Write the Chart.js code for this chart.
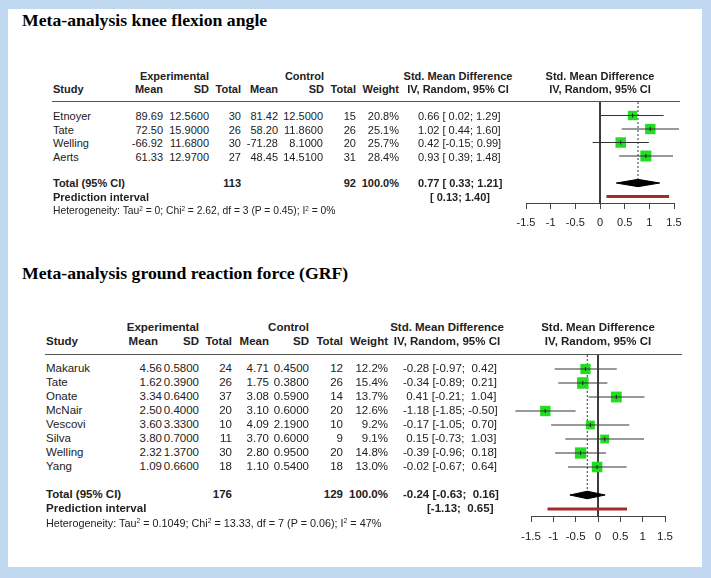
<!DOCTYPE html>
<html>
<head>
<meta charset="utf-8">
<script src="https://cdn.jsdelivr.net/npm/chart.js"></script>
<style>
html, body { margin: 0; padding: 0; background: #fff; }
#page { position: relative; width: 711px; height: 578px; overflow: hidden; background: #fff;
        font-family: "Liberation Sans", Arial, sans-serif; color: #222; }
#frame { position: absolute; left: 0; top: 0; width: 711px; height: 578px; box-sizing: border-box;
         border-style: solid; border-color: #c0d9f0; border-width: 9px 9px 11px 8px; z-index: 5; }
.t { position: absolute; white-space: pre; line-height: 1; }
.t sup { font-size: 0.62em; vertical-align: 0.5em; line-height: 0; }
.title { font-family: "Liberation Serif", "Times New Roman", serif; font-weight: bold; color: #000; }
.rule { position: absolute; height: 1px; background: #555; }
canvas { position: absolute; }
</style>
</head>
<body>
<div id="page">
  <div id="frame"></div>
  <canvas id="kneeChart" width="230" height="150" style="left:470px; top:90px;"></canvas>
  <canvas id="grfChart" width="230" height="230" style="left:470px; top:340px;"></canvas>
</div>
<script>
// knee flexion angle
const kneeStudies = ['Etnoyer', 'Tate', 'Welling', 'Aerts'];
const kneeExpMean = [89.69, 72.50, -66.92, 61.33];
const kneeExpSD = [12.56, 15.90, 11.68, 12.97];
const kneeExpN = [30, 26, 30, 27];
const kneeCtlMean = [81.42, 58.20, -71.28, 48.45];
const kneeCtlSD = [12.50, 11.86, 8.10, 14.51];
const kneeCtlN = [15, 26, 20, 31];
const kneeWeight = [20.8, 25.1, 25.7, 28.4];
const kneeSMD = [0.66, 1.02, 0.42, 0.93];
const kneeLower = [0.02, 0.44, -0.15, 0.39];
const kneeUpper = [1.29, 1.60, 0.99, 1.48];
const kneeTotal = [0.77, 0.33, 1.21];
const kneePI = [0.13, 1.40];
const kneeN = [113, 92];
const kneeHet = 'Heterogeneity: Tau<sup>2</sup> = 0; Chi<sup>2</sup> = 2.62, df = 3 (P = 0.45); I<sup>2</sup> = 0%';

// ground reaction force
const grfStudies = ['Makaruk', 'Tate', 'Onate', 'McNair', 'Vescovi', 'Silva', 'Welling', 'Yang'];
const grfExpMean = [4.56, 1.62, 3.34, 2.50, 3.60, 3.80, 2.32, 1.09];
const grfExpSD = [0.58, 0.39, 0.64, 0.40, 3.33, 0.70, 1.37, 0.66];
const grfExpN = [24, 26, 37, 20, 10, 11, 30, 18];
const grfCtlMean = [4.71, 1.75, 3.08, 3.10, 4.09, 3.70, 2.80, 1.10];
const grfCtlSD = [0.45, 0.38, 0.59, 0.60, 2.19, 0.60, 0.95, 0.54];
const grfCtlN = [12, 26, 14, 20, 10, 9, 20, 18];
const grfWeight = [12.2, 15.4, 13.7, 12.6, 9.2, 9.1, 14.8, 13.0];
const grfSMD = [-0.28, -0.34, 0.41, -1.18, -0.17, 0.15, -0.39, -0.02];
const grfLower = [-0.97, -0.89, -0.21, -1.85, -1.05, -0.73, -0.96, -0.67];
const grfUpper = [0.42, 0.21, 1.04, -0.50, 0.70, 1.03, 0.18, 0.64];
const grfTotal = [-0.24, -0.63, 0.16];
const grfPI = [-1.13, 0.65];
const grfN = [176, 129];
const grfHet = 'Heterogeneity: Tau<sup>2</sup> = 0.1049; Chi<sup>2</sup> = 13.33, df = 7 (P = 0.06); I<sup>2</sup> = 47%';

const tickValues = [-1.5, -1, -0.5, 0, 0.5, 1, 1.5];
const tickLabels = ['-1.5', '-1', '-0.5', '0', '0.5', '1', '1.5'];

const page = document.getElementById('page');

function put(text, x, y, opts = {}) {
  const d = document.createElement('div');
  d.className = 't' + (opts.cls ? ' ' + opts.cls : '');
  d.innerHTML = text;
  d.style.left = x + 'px';
  d.style.top = y + 'px';
  d.style.fontSize = (opts.size || 11) + 'px';
  if (opts.bold) d.style.fontWeight = 'bold';
  const tx = opts.align === 'right' ? '-100%' : opts.align === 'center' ? '-50%' : '0';
  d.style.transform = 'translate(' + tx + ', -50%)';
  page.appendChild(d);
}

function rule(x1, x2, y) {
  const d = document.createElement('div');
  d.className = 'rule';
  d.style.left = x1 + 'px';
  d.style.width = (x2 - x1) + 'px';
  d.style.top = y + 'px';
  page.appendChild(d);
}

// R style: pad positives with a space when the column has a negative
function col(vals) {
  const neg = vals.some(v => v < 0);
  return v => (neg && v >= 0 ? ' ' : '') + v.toFixed(2);
}

function table(d, L) {
  const s = L.size;
  put(L.title, 22, L.titleY, { cls: 'title', size: 17.7 });
  put('Experimental', L.head.sd, L.groupY, { align: 'right', bold: true, size: s });
  put('Control', L.head.csd, L.groupY, { align: 'right', bold: true, size: s });
  put('Study', L.studyX, L.headY, { bold: true, size: s });
  put('Mean', L.head.mean, L.headY, { align: 'right', bold: true, size: s });
  put('SD', L.head.sd, L.headY, { align: 'right', bold: true, size: s });
  put('Total', L.head.tot, L.headY, { align: 'right', bold: true, size: s });
  put('Mean', L.head.cmean, L.headY, { align: 'right', bold: true, size: s });
  put('SD', L.head.csd, L.headY, { align: 'right', bold: true, size: s });
  put('Total', L.head.ctot, L.headY, { align: 'right', bold: true, size: s });
  put('Weight', L.head.w, L.headY, { align: 'right', bold: true, size: s });
  put('Std. Mean Difference', L.smdHeadX, L.groupY, { align: 'center', bold: true, size: s });
  put('IV, Random, 95% CI', L.smdHeadX, L.headY, { align: 'center', bold: true, size: s });
  put('Std. Mean Difference', L.forestHeadX, L.groupY, { align: 'center', bold: true, size: s });
  put('IV, Random, 95% CI', L.forestHeadX, L.headY, { align: 'center', bold: true, size: s });
  rule(L.ruleX[0], L.ruleX[1], L.ruleY);

  const fe = col(d.est.concat([d.total[0]]));
  const fl = col(d.lo.concat([d.total[1], d.pi[0]]));
  const fh = col(d.hi.concat([d.total[2], d.pi[1]]));
  d.studies.forEach((name, i) => {
    const y = L.row0 + L.rowH * i;
    put(name, L.studyX, y, { size: s });
    put(d.em[i].toFixed(2), L.c.mean, y, { align: 'right', size: s });
    put(d.esd[i].toFixed(4), L.c.sd, y, { align: 'right', size: s });
    put(String(d.en[i]), L.c.tot, y, { align: 'right', size: s });
    put(d.cm[i].toFixed(2), L.c.cmean, y, { align: 'right', size: s });
    put(d.csd[i].toFixed(4), L.c.csd, y, { align: 'right', size: s });
    put(String(d.cn[i]), L.c.ctot, y, { align: 'right', size: s });
    put(d.w[i].toFixed(1) + '%', L.c.w, y, { align: 'right', size: s });
    put(fe(d.est[i]) + ' [' + fl(d.lo[i]) + '; ' + fh(d.hi[i]) + ']', L.c.smd, y, { size: s });
  });
  put('Total (95% CI)', L.studyX, L.totalY, { bold: true, size: s });
  put(String(d.n[0]), L.c.tot, L.totalY, { align: 'right', bold: true, size: s });
  put(String(d.n[1]), L.c.ctot, L.totalY, { align: 'right', bold: true, size: s });
  put('100.0%', L.c.w, L.totalY, { align: 'right', bold: true, size: s });
  put(fe(d.total[0]) + ' [' + fl(d.total[1]) + '; ' + fh(d.total[2]) + ']', L.c.smd, L.totalY, { bold: true, size: s });
  put('Prediction interval', L.studyX, L.piY, { bold: true, size: s });
  put('[' + fl(d.pi[0]) + '; ' + fh(d.pi[1]) + ']', L.piX, L.piY, { bold: true, size: s });
  put(d.het, L.studyX, L.hetY, { size: L.hetSize });
}

function forest(id, d, F) {
  const wmax = Math.max(...d.w);
  const pts = d.est.map((e, i) => ({ x: e, y: i + 1 }));
  const sumRow = d.studies.length + 2;
  const ds = [];
  d.est.forEach((e, i) => {
    ds.push({ type: 'line', data: [{ x: d.lo[i], y: i + 1 }, { x: d.hi[i], y: i + 1 }],
      borderColor: '#333', borderWidth: 1, pointRadius: 0, clip: false, order: 1 });
  });
  ds.push({ type: 'scatter', data: pts, pointStyle: 'rect',
    pointRadius: d.w.map(w => F.side * Math.sqrt(w / wmax) / Math.SQRT2),
    pointBackgroundColor: '#22dd22', pointBorderWidth: 0, order: 2 });
  ds.push({ type: 'scatter', data: pts, pointStyle: 'line', rotation: 90, pointRadius: 2,
    pointBorderColor: '#222', pointBorderWidth: 1, order: 0 });
  ds.push({ type: 'line', data: [{ x: 0, y: 0 }, { x: 0, y: F.ymax }],
    borderColor: '#222', borderWidth: 1, pointRadius: 0, order: 3 });
  ds.push({ type: 'line', data: [{ x: d.total[0], y: 0 }, { x: d.total[0], y: sumRow }],
    borderColor: '#333', borderWidth: 1, borderDash: [2, 2], pointRadius: 0, order: 3 });
  const h = 0.27;
  ds.push({ type: 'line', data: [
      { x: d.total[1], y: sumRow }, { x: d.total[0], y: sumRow - h },
      { x: d.total[2], y: sumRow }, { x: d.total[0], y: sumRow + h }, { x: d.total[1], y: sumRow }],
    borderColor: '#000', backgroundColor: '#000', borderWidth: 1, fill: 'shape', pointRadius: 0, order: 1 });
  ds.push({ type: 'line', data: [{ x: d.pi[0], y: sumRow + 1 }, { x: d.pi[1], y: sumRow + 1 }],
    borderColor: '#a52a2a', borderWidth: 3, pointRadius: 0, clip: false, order: 1 });

  new Chart(document.getElementById(id), {
    type: 'scatter',
    data: { datasets: ds },
    options: {
      responsive: false,
      animation: false,
      events: [],
      layout: { padding: F.padding },
      plugins: { legend: { display: false }, tooltip: { enabled: false } },
      scales: {
        x: {
          type: 'linear', min: -1.5, max: 1.5,
          afterBuildTicks: s => { s.ticks = tickValues.map(v => ({ value: v })); },
          afterFit: s => { s.height = 30; },
          ticks: {
            callback: (v, i) => tickLabels[i],
            font: { family: 'Liberation Sans', size: F.tickSize },
            color: '#222', padding: F.tickPad, maxRotation: 0, autoSkip: false
          },
          grid: { display: true, drawOnChartArea: false, drawTicks: true, tickLength: 6, color: '#444', lineWidth: 1 },
          border: { display: true, color: '#444', width: 1 }
        },
        y: { type: 'linear', display: false, reverse: true, min: 0, max: F.ymax }
      }
    }
  });
}

const knee = { studies: kneeStudies, em: kneeExpMean, esd: kneeExpSD, en: kneeExpN,
  cm: kneeCtlMean, csd: kneeCtlSD, cn: kneeCtlN, w: kneeWeight, est: kneeSMD,
  lo: kneeLower, hi: kneeUpper, total: kneeTotal, pi: kneePI, n: kneeN, het: kneeHet };
const grf = { studies: grfStudies, em: grfExpMean, esd: grfExpSD, en: grfExpN,
  cm: grfCtlMean, csd: grfCtlSD, cn: grfCtlN, w: grfWeight, est: grfSMD,
  lo: grfLower, hi: grfUpper, total: grfTotal, pi: grfPI, n: grfN, het: grfHet };

table(knee, {
  title: 'Meta-analysis knee flexion angle', titleY: 20.5, size: 11, hetSize: 10.3,
  studyX: 53, groupY: 76, headY: 89,
  head: { mean: 163, sd: 209, tot: 241, cmean: 278, csd: 324, ctot: 356, w: 399 },
  c: { mean: 163, sd: 209, tot: 241, cmean: 278, csd: 323, ctot: 356, w: 399, smd: 418 },
  row0: 116, rowH: 13.5, totalY: 183, piY: 197, piX: 430, hetY: 211,
  smdHeadX: 458, forestHeadX: 600, ruleX: [52, 680], ruleY: 101
});
table(grf, {
  title: 'Meta-analysis ground reaction force (GRF)', titleY: 274, size: 11.5, hetSize: 10.8,
  studyX: 46, groupY: 328, headY: 342,
  head: { mean: 158, sd: 199, tot: 232, cmean: 269, csd: 309, ctot: 343, w: 388 },
  c: { mean: 162, sd: 199, tot: 232, cmean: 269, csd: 309, ctot: 343, w: 388, smd: 403 },
  row0: 369, rowH: 14, totalY: 495, piY: 509, piX: 427, hetY: 523,
  smdHeadX: 447, forestHeadX: 598, ruleX: [45, 682], ruleY: 354
});

forest('kneeChart', knee, { side: 11, ymax: 7.48, tickSize: 11, tickPad: 7,
  padding: { left: 56, right: 26, top: 12, bottom: 7 } });
forest('grfChart', grf, { side: 11.5, ymax: 11.5, tickSize: 11.5, tickPad: 8,
  padding: { left: 61, right: 35, top: 15, bottom: 24 } });
</script>
</body>
</html>
